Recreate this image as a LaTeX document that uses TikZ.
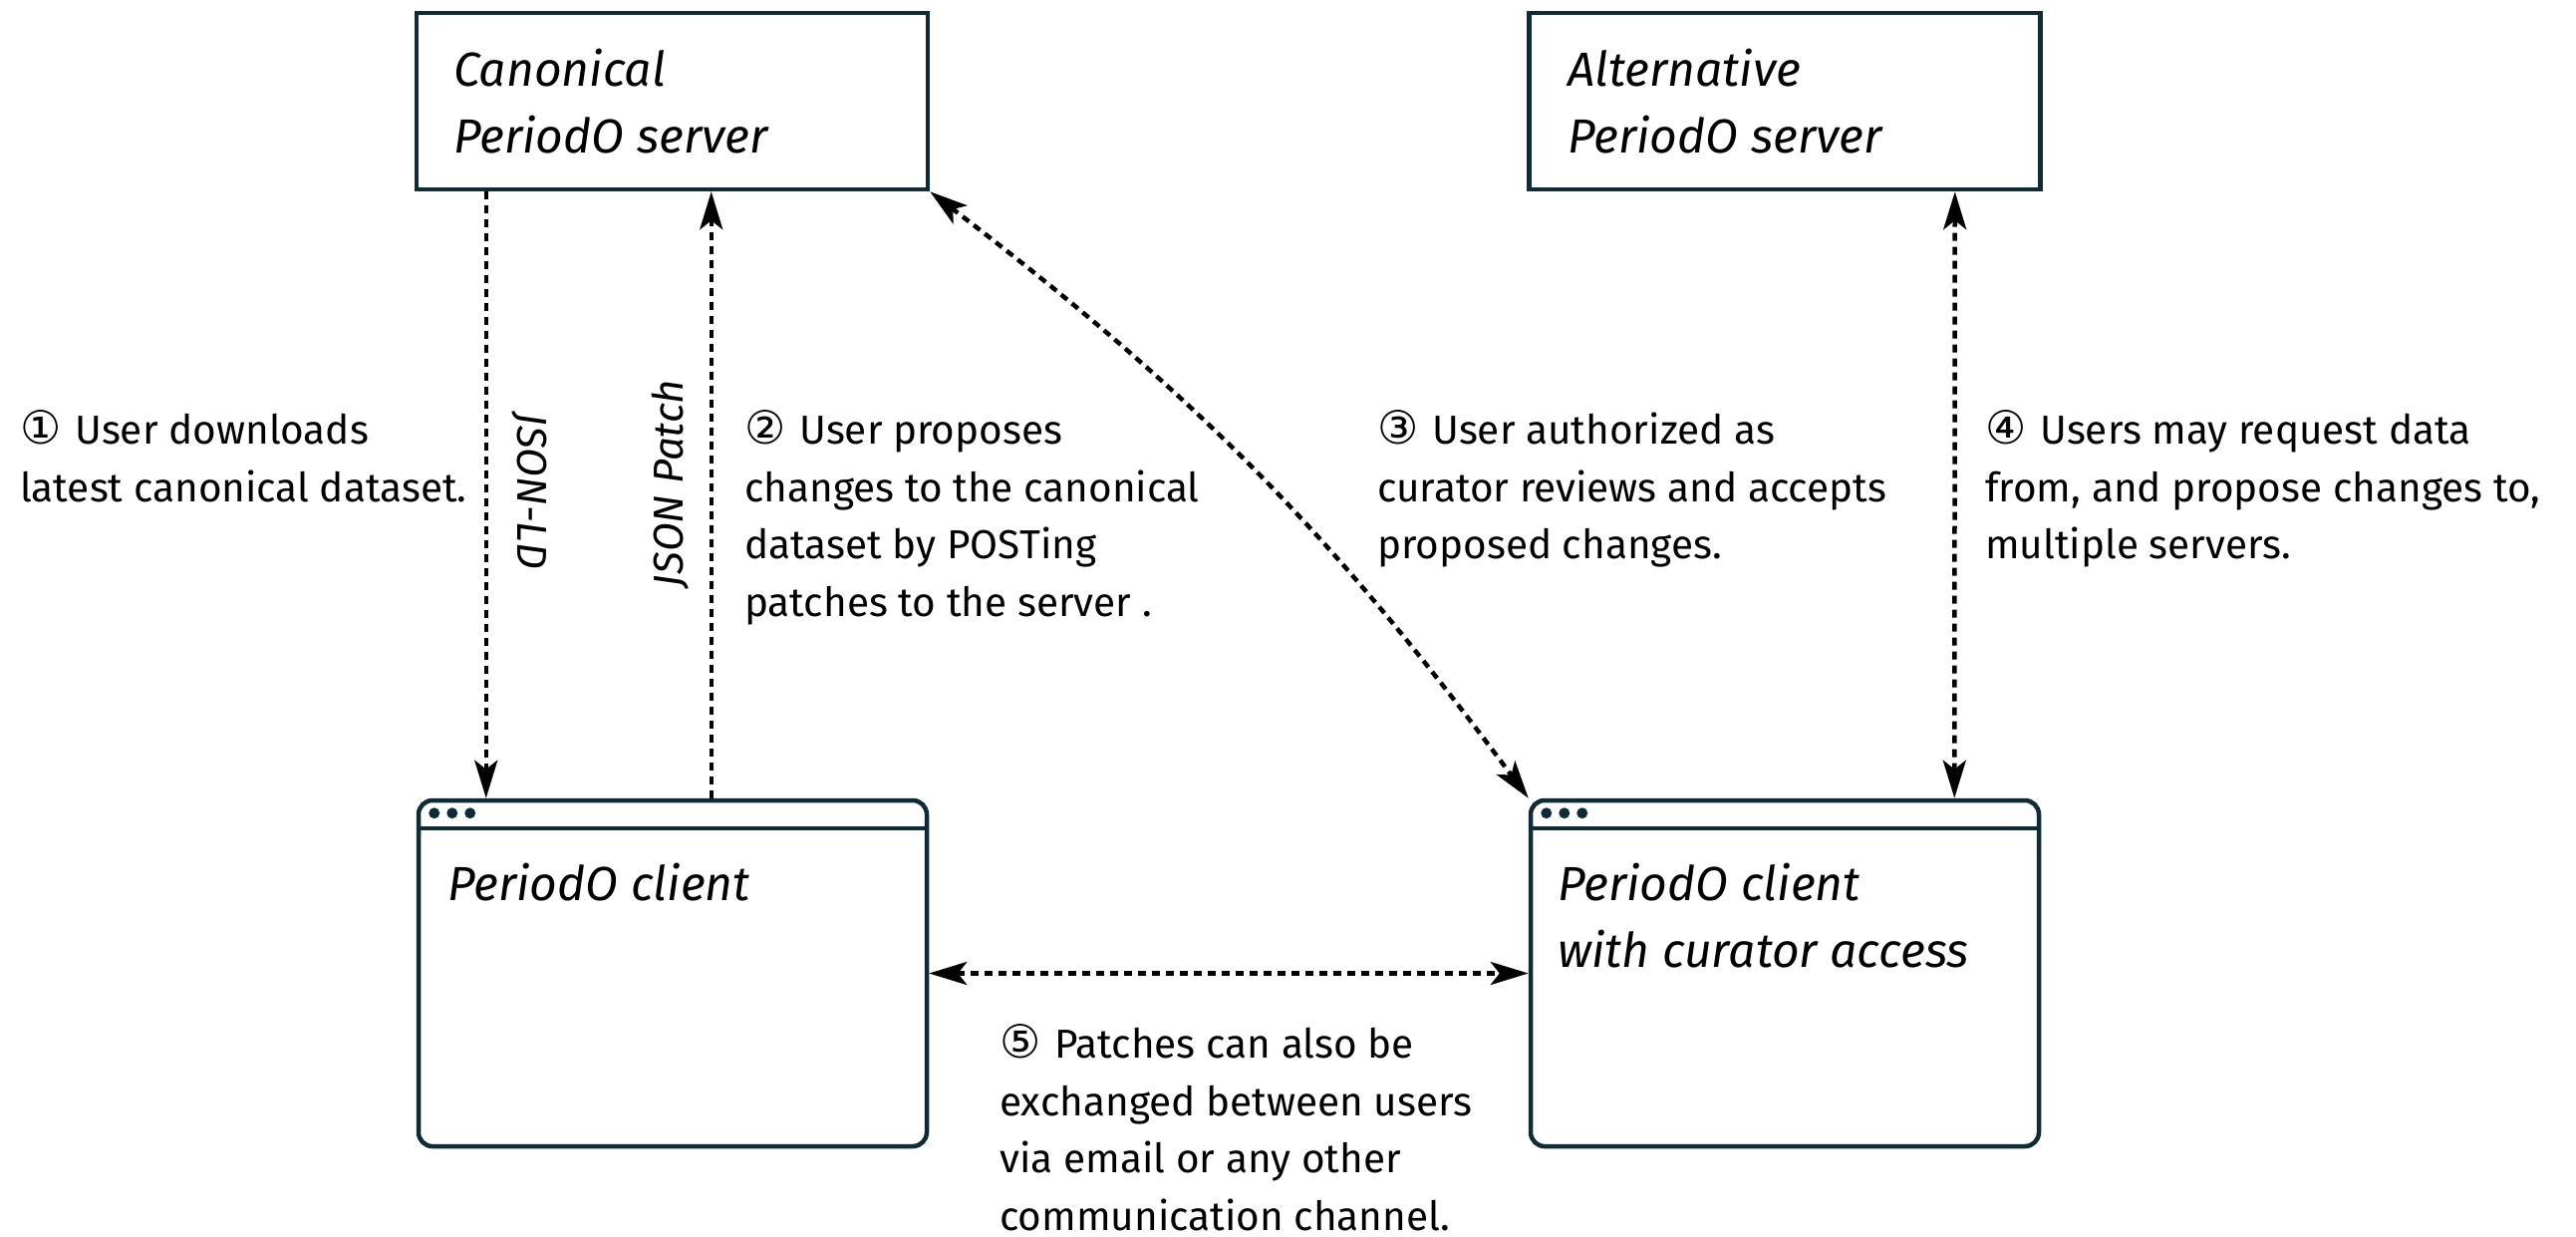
\documentclass[tikz,border=0pt]{standalone}
\usepackage{fontspec}
\setmainfont{Fira Sans}
\newfontfamily\symfont{DejaVu Sans}
\usetikzlibrary{arrows.meta}
\definecolor{frame}{RGB}{15,43,56}
\newcommand{\cnum}[1]{{\symfont\fontsize{46}{57.5}\selectfont #1}\hspace{14pt}}
\tikzset{
  srvbox/.style={draw=frame, line width=4.5pt, minimum width=513pt, minimum height=177pt, inner sep=0pt},
  clibox/.style={draw=frame, line width=4.5pt, rounded corners=14pt, minimum width=510pt, minimum height=347pt, inner sep=0pt},
  tip/.tip={Stealth[length=38pt,width=23pt,inset=9pt]},
  arr/.style={line width=4.5pt, dash pattern=on 8pt off 6pt, -tip},
  biarr/.style={line width=4.5pt, dash pattern=on 8pt off 6pt, tip-tip},
  note/.style={anchor=base west, align=left, inner sep=0pt, font=\fontsize{40.5}{57.5}\selectfont},
  boxtext/.style={anchor=base west, align=left, inner sep=0pt, font=\fontsize{48}{67}\selectfont\itshape},
  lbl/.style={inner sep=0pt, font=\fontsize{42}{50}\selectfont\itshape},
  dot/.style={fill=frame}
}
\begin{document}
\begin{tikzpicture}[x=1pt,y=-1pt]
\useasboundingbox (0,0) rectangle (2585,1240);
\fill[white] (0,0) rectangle (2585,1240);

% boxes
\node[srvbox] (canon) at (674.5,101.5) {};
\node[srvbox] (alt) at (1791,101.5) {};
\node[clibox] (client) at (675,976.5) {};
\node[clibox] (curator) at (1791,976.5) {};

% window headers
\draw[frame, line width=4.5pt] ([yshift=-30pt]client.north west) -- ([yshift=-30pt]client.north east);
\draw[frame, line width=4.5pt] ([yshift=-30pt]curator.north west) -- ([yshift=-30pt]curator.north east);
\foreach \dx in {18,36,54}{
  \fill[dot] ([xshift=\dx pt,yshift=-15pt]client.north west) circle (5.5pt);
  \fill[dot] ([xshift=\dx pt,yshift=-15pt]curator.north west) circle (5.5pt);
}

% box texts (anchor = baseline of last line)
\node[boxtext] (canontxt) at (455,153) {Canonical\\PeriodO server};
\node[boxtext] (alttxt) at (1573,153) {Alternative\\PeriodO server};
\node[boxtext] (clitxt) at (449,903) {PeriodO client};
\node[boxtext] (curtxt) at (1563,970) {PeriodO client\\with curator access};

% notes (anchor = baseline of last line)
\node[note] (n1) at (20,503) {\cnum{①}User downloads\\latest canonical dataset.};
\node[note] (n2) at (747,618) {\cnum{②}User proposes\\changes to the canonical\\dataset by POSTing\\patches to the server .};
\node[note] (n3) at (1382,560.5) {\cnum{③}User authorized as\\curator reviews and accepts\\proposed changes.};
\node[note] (n4) at (1992,560.5) {\cnum{④}Users may request data\\from, and propose changes to,\\multiple servers.};
\node[note] (n5) at (1003,1234) {\cnum{⑤}Patches can also be\\exchanged between users\\via email or any other\\communication channel.};

% rotated labels
\node[lbl, rotate=-90] (jld) at (531,493) {JSON-LD};
\node[lbl, rotate=90] (jp) at (673,485) {JSON Patch};

% connectors
\draw[arr] ([xshift=72pt]canon.south west) -- ([xshift=70pt]client.north west);
\draw[arr] ([xshift=296pt]client.north west) -- ([xshift=298pt]canon.south west);
\draw[biarr] (canon.south east) to[bend left=8] (curator.north west);
\draw[biarr] ([xshift=-88pt]alt.south east) -- ([xshift=-87pt]curator.north east);
\draw[biarr] (client.east) -- (curator.west);
\end{tikzpicture}
\end{document}
